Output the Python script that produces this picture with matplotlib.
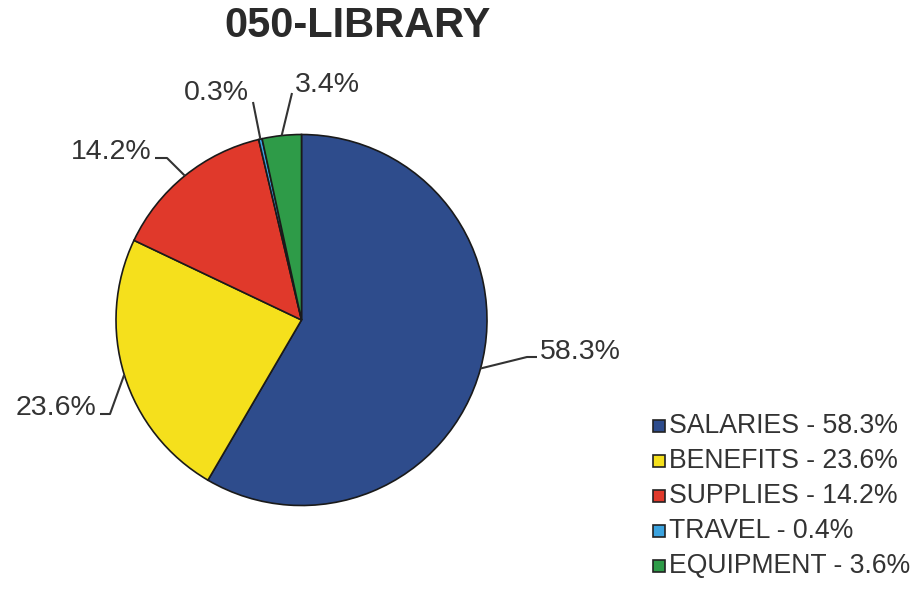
import numpy as np
import matplotlib
matplotlib.use("Agg")
import matplotlib.pyplot as plt
from matplotlib.patches import Rectangle

plt.rcParams['font.family'] = ['Liberation Sans', 'DejaVu Sans']

# Budget shares for the library department
categories = ["SALARIES", "BENEFITS", "SUPPLIES", "TRAVEL", "EQUIPMENT"]
pie_values = [58.3, 23.6, 14.2, 0.3, 3.4]
legend_values = [58.3, 23.6, 14.2, 0.4, 3.6]
colors = ["#2E4C8C", "#F5E01C", "#E0392B", "#3BA3DF", "#2E9B48"]
title = "050-LIBRARY"

W, H = 921, 589
fig = plt.figure(figsize=(W / 100, H / 100), dpi=100)
ax = fig.add_axes([0, 0, 1, 1])

# Pie geometry in pixel units (y axis points downward)
cx, cy, r = 301.5, 320.0, 185.5
wedges, _ = ax.pie(pie_values, colors=colors, startangle=-90, counterclock=True,
                   center=(cx, cy), radius=r,
                   wedgeprops=dict(edgecolor="#1a1a1a", linewidth=1.2))
ax.set_xlim(0, W)
ax.set_ylim(H, 0)
ax.axis("off")

# Leader lines: elbow / end offsets and text placement per slice
label_layout = [
    # (elbow, end, text pos, ha)
    ((527, 357), (537, 357), (540, 352), "left"),
    ((110, 414), (100, 414), (96, 408), "right"),
    ((167, 158), (155, 158), (151, 152), "right"),
    ((253, 102), (253, 102), (249, 93), "right"),
    ((292, 93), (292, 93), (295, 85), "left"),
]
text_color = "#333333"
for w, val, (elbow, end, tpos, ha) in zip(wedges, pie_values, label_layout):
    mid = np.deg2rad((w.theta1 + w.theta2) / 2)
    ex, ey = cx + r * np.cos(mid), cy + r * np.sin(mid)
    ax.plot([ex, elbow[0], end[0]], [ey, elbow[1], end[1]],
            color=text_color, lw=1.5, solid_capstyle="butt")
    ax.text(tpos[0], tpos[1], f"{val:.1f}%", ha=ha, va="center",
            fontsize=20.5, color=text_color)

ax.text(358, 26, title, ha="center", va="center", fontsize=30,
        fontweight="bold", color="#2a2a2a")

# Legend
lx, ly0, dy, sq = 653, 426, 35, 12
for i, (cat, val, col) in enumerate(zip(categories, legend_values, colors)):
    y = ly0 + i * dy
    ax.add_patch(Rectangle((lx, y - sq / 2), sq, sq, facecolor=col,
                           edgecolor="#222222", linewidth=1.2))
    ax.text(lx + 16, y, f"{cat} - {val:.1f}%", ha="left", va="center",
            fontsize=19.2, color=text_color)

fig.savefig("out.png", dpi=100, facecolor="white")
